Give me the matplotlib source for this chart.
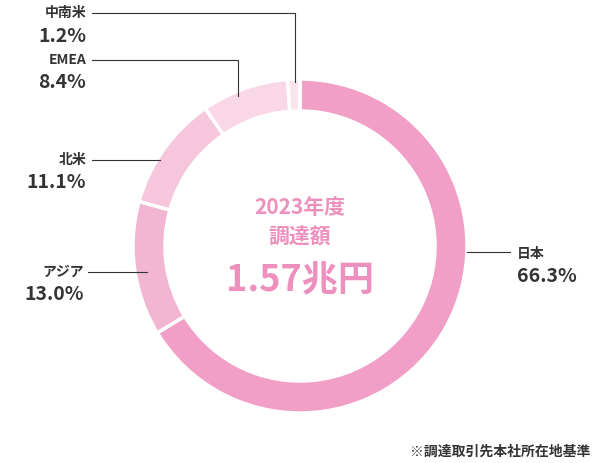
import matplotlib
matplotlib.use("Agg")
import matplotlib.pyplot as plt

regions = ["日本", "アジア", "北米", "EMEA", "中南米"]
shares = [66.3, 13.0, 11.1, 8.4, 1.2]
colors = ["#f19fc6", "#f3b6d2", "#f6c7dc", "#f9d7e6", "#fbe4ee"]

H = 463
fig = plt.figure(figsize=(6, 4.63), dpi=100)
ax = fig.add_axes([0, 0, 1, 1])
plt.rcParams["font.family"] = "Noto Sans CJK JP"

cx, cy, R = 300, H - 246, 167
ax.pie(shares, colors=colors, startangle=90, counterclock=False, center=(cx, cy),
       radius=R, wedgeprops=dict(width=32, edgecolor="white", linewidth=2.5), frame=True)
ax.set_xlim(0, 600); ax.set_ylim(0, H); ax.set_aspect("equal"); ax.axis("off")

lc = "#333333"
def lab(x, y, name, pct, ha="left"):
    ax.text(x, H - y, name, fontsize=10, fontweight="bold", color=lc, ha=ha, va="center")
    ax.text(x, H - y - 23, f"{pct}%", fontsize=14, fontweight="bold", color=lc, ha=ha, va="center")

ax.plot([92, 295, 295], [H-13, H-13, H-82], color=lc, lw=0.8)
ax.plot([92, 238, 238], [H-60, H-60, H-96], color=lc, lw=0.8)
ax.plot([92, 160], [H-160, H-160], color=lc, lw=0.8)
ax.plot([88, 147], [H-272, H-272], color=lc, lw=0.8)
ax.plot([467, 510], [H-252, H-252], color=lc, lw=0.8)

lab(86, 13, regions[4], shares[4], "right")
lab(86, 60, regions[3], shares[3], "right")
lab(86, 160, regions[2], shares[2], "right")
lab(84, 272, regions[1], shares[1], "right")
lab(517, 254, regions[0], shares[0], "left")

pink = "#ee90bd"
ax.text(cx, H - 207, "2023年度", fontsize=15, fontweight="bold", color=pink, ha="center", va="center")
ax.text(cx, H - 237, "調達額", fontsize=15, fontweight="bold", color=pink, ha="center", va="center")
ax.text(cx, H - 281, "1.57兆円", fontsize=26, fontweight="bold", color=pink, ha="center", va="center")
ax.text(590, H - 452, "※調達取引先本社所在地基準", fontsize=10, fontweight="bold", color=lc, ha="right", va="center")

fig.savefig("out.png", dpi=100)
